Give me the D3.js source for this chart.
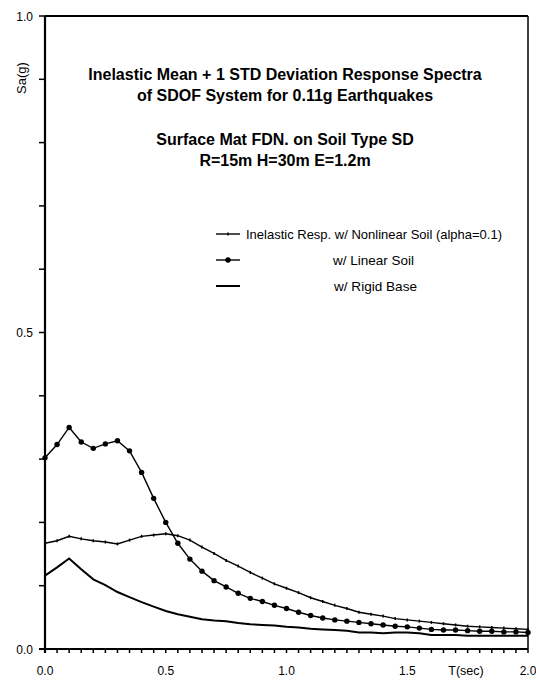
<!DOCTYPE html>
<html lang="en">
<head>
    <meta charset="UTF-8">
    <title>Inelastic Response Spectra</title>
    <style>
        html, body {
            margin: 0;
            padding: 0;
            background-color: #fff;
            font-family: 'Liberation Sans', Arial, sans-serif;
        }
    </style>
</head>
<body>
    <div id="chart"></div>
    <script src="https://d3js.org/d3.v7.min.js"></script>
    <script>
        // DATA (T in seconds, Sa in g)
        const periods = [0.00, 0.05, 0.10, 0.15, 0.20, 0.25, 0.30, 0.35, 0.40, 0.45, 0.50,
                         0.55, 0.60, 0.65, 0.70, 0.75, 0.80, 0.85, 0.90, 0.95, 1.00,
                         1.05, 1.10, 1.15, 1.20, 1.25, 1.30, 1.35, 1.40, 1.45, 1.50,
                         1.55, 1.60, 1.65, 1.70, 1.75, 1.80, 1.85, 1.90, 1.95, 2.00];
        const nonlinearSoil = [0.167, 0.171, 0.178, 0.174, 0.171, 0.169, 0.166, 0.172, 0.178, 0.180, 0.182,
                               0.179, 0.172, 0.161, 0.151, 0.140, 0.131, 0.121, 0.112, 0.103, 0.096,
                               0.089, 0.081, 0.075, 0.069, 0.064, 0.058, 0.055, 0.052, 0.048, 0.046,
                               0.044, 0.042, 0.040, 0.038, 0.036, 0.035, 0.034, 0.033, 0.032, 0.031];
        const linearSoil = [0.302, 0.323, 0.350, 0.327, 0.317, 0.324, 0.329, 0.313, 0.279, 0.238, 0.200,
                            0.167, 0.142, 0.123, 0.108, 0.098, 0.088, 0.080, 0.075, 0.069, 0.064,
                            0.058, 0.053, 0.049, 0.046, 0.044, 0.042, 0.040, 0.038, 0.036, 0.035,
                            0.033, 0.031, 0.030, 0.030, 0.029, 0.028, 0.028, 0.027, 0.027, 0.026];
        const rigidBase = [0.116, 0.129, 0.143, 0.126, 0.110, 0.101, 0.090, 0.082, 0.074, 0.067, 0.060,
                           0.055, 0.051, 0.047, 0.045, 0.044, 0.041, 0.039, 0.038, 0.037, 0.035,
                           0.034, 0.032, 0.031, 0.030, 0.029, 0.026, 0.026, 0.025, 0.026, 0.026,
                           0.025, 0.022, 0.022, 0.022, 0.021, 0.021, 0.021, 0.021, 0.021, 0.021];

        const titleLines = ["Inelastic Mean + 1 STD Deviation Response Spectra",
                            "of SDOF System for 0.11g Earthquakes",
                            "Surface Mat FDN. on Soil Type SD",
                            "R=15m H=30m E=1.2m"];
        const legendLabels = ["Inelastic Resp. w/ Nonlinear Soil (alpha=0.1)",
                              "w/ Linear Soil",
                              "w/ Rigid Base"];
        const xLabelTicks = [0, 0.5, 1.0, 1.5, 2.0];
        const xMinorTicks = d3.range(0, 41).map(i => i / 20);
        const yLabelTicks = [0, 0.5, 1.0];
        const yMinorTicks = d3.range(0, 11).map(i => i / 10);

        const W = 536, H = 680;
        const margin = {top: 16, left: 44, bottom: 31, right: 8};

        const svg = d3.select("#chart")
            .append("svg")
            .attr("width", W)
            .attr("height", H)
            .style("font-family", "'Liberation Sans', Arial, sans-serif");

        // SCALES
        const x = d3.scaleLinear().domain([0, 2]).range([margin.left + 1, W - margin.right]);
        const y = d3.scaleLinear().domain([0, 1]).range([H - margin.bottom, margin.top]);

        // FRAME (top + right)
        svg.append("line")
            .attr("x1", x(0)).attr("x2", x(2))
            .attr("y1", y(1)).attr("y2", y(1))
            .attr("stroke", "#000").attr("stroke-width", 2);
        svg.append("line")
            .attr("x1", x(2)).attr("x2", x(2))
            .attr("y1", y(1)).attr("y2", y(0))
            .attr("stroke", "#000").attr("stroke-width", 1.5);

        // X AXIS
        svg.append("line")
            .attr("x1", x(0) - 6).attr("x2", x(2))
            .attr("y1", y(0)).attr("y2", y(0))
            .attr("stroke", "#000").attr("stroke-width", 2);
        svg.selectAll(".xtick")
            .data(xMinorTicks).enter()
            .append("line")
            .attr("class", "xtick")
            .attr("x1", d => x(d)).attr("x2", d => x(d))
            .attr("y1", y(0)).attr("y2", y(0) + 4)
            .attr("stroke", "#000").attr("stroke-width", 1.5);

        svg.selectAll(".xlab")
            .data(xLabelTicks).enter()
            .append("text")
            .attr("class", "xlab")
            .attr("x", d => x(d))
            .attr("y", 675)
            .attr("text-anchor", "middle")
            .style("font-size", "12px")
            .text(d => d.toFixed(1));

        svg.append("text")
            .attr("x", 466)
            .attr("y", 675)
            .attr("text-anchor", "middle")
            .style("font-size", "12.5px")
            .text("T(sec)");

        // Y AXIS
        svg.append("line")
            .attr("x1", x(0)).attr("x2", x(0))
            .attr("y1", y(1)).attr("y2", y(0) + 4)
            .attr("stroke", "#000").attr("stroke-width", 2.2);
        svg.selectAll(".ytick")
            .data(yMinorTicks).enter()
            .append("line")
            .attr("class", "ytick")
            .attr("x1", x(0) - 6).attr("x2", x(0))
            .attr("y1", d => y(d)).attr("y2", d => y(d))
            .attr("stroke", "#000").attr("stroke-width", 1.5);

        svg.selectAll(".ylab")
            .data(yLabelTicks).enter()
            .append("text")
            .attr("class", "ylab")
            .attr("x", 33)
            .attr("y", d => y(d) + 4.5)
            .attr("text-anchor", "end")
            .style("font-size", "12px")
            .text(d => d.toFixed(1));

        svg.append("text")
            .attr("transform", `translate(26, 78) rotate(-90)`)
            .attr("text-anchor", "middle")
            .style("font-size", "13px")
            .text("Sa(g)");

        // TITLE
        const titleY = [80, 101, 145, 166];
        svg.selectAll(".title")
            .data(titleLines).enter()
            .append("text")
            .attr("class", "title")
            .attr("x", 285)
            .attr("y", (d, i) => titleY[i])
            .attr("text-anchor", "middle")
            .style("font-size", "16px")
            .style("font-weight", "bold")
            .text(d => d);

        // LINES
        const line = d3.line()
            .x((d, i) => x(periods[i]))
            .y(d => y(d));

        svg.append("path")
            .datum(rigidBase)
            .attr("d", line)
            .attr("fill", "none")
            .attr("stroke", "#000")
            .attr("stroke-width", 2);

        svg.append("path")
            .datum(nonlinearSoil)
            .attr("d", line)
            .attr("fill", "none")
            .attr("stroke", "#000")
            .attr("stroke-width", 1.4);

        svg.selectAll(".nlmark")
            .data(nonlinearSoil).enter()
            .append("line")
            .attr("class", "nlmark")
            .attr("x1", (d, i) => x(periods[i]))
            .attr("x2", (d, i) => x(periods[i]))
            .attr("y1", d => y(d) - 1.5)
            .attr("y2", d => y(d) + 1.5)
            .attr("stroke", "#000")
            .attr("stroke-width", 1.5);

        svg.append("path")
            .datum(linearSoil)
            .attr("d", line)
            .attr("fill", "none")
            .attr("stroke", "#000")
            .attr("stroke-width", 1.4);

        svg.selectAll(".lmark")
            .data(linearSoil).enter()
            .append("circle")
            .attr("class", "lmark")
            .attr("cx", (d, i) => x(periods[i]))
            .attr("cy", d => y(d))
            .attr("r", 2.7)
            .attr("fill", "#000");

        // LEGEND
        const legY = [234, 260, 286];
        const legend = svg.append("g").style("font-size", "13px");
        legY.forEach((ly, i) => {
            legend.append("line")
                .attr("x1", 216).attr("x2", 240)
                .attr("y1", ly).attr("y2", ly)
                .attr("stroke", "#000")
                .attr("stroke-width", i === 2 ? 2 : 1.4);
        });
        legend.append("line")
            .attr("x1", 228).attr("x2", 228)
            .attr("y1", legY[0] - 1.5).attr("y2", legY[0] + 1.5)
            .attr("stroke", "#000").attr("stroke-width", 1.5);
        legend.append("circle")
            .attr("cx", 228).attr("cy", legY[1]).attr("r", 2.7).attr("fill", "#000");

        const legX = [246, 333, 334];
        const legLen = [256, 81, 83];
        legend.selectAll(".legtext")
            .data(legendLabels).enter()
            .append("text")
            .attr("class", "legtext")
            .attr("x", (d, i) => legX[i])
            .attr("y", (d, i) => legY[i] + 4.5)
            .attr("textLength", (d, i) => legLen[i])
            .attr("lengthAdjust", "spacingAndGlyphs")
            .text(d => d);
    </script>
</body>
</html>
